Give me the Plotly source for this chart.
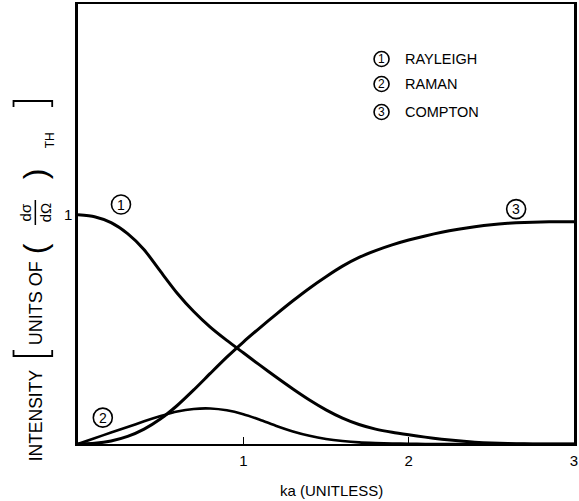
import plotly.graph_objects as go

# ka values (unitless) and the three scattering intensities in Thomson units
ka = [0.0, 0.1, 0.2, 0.3, 0.4, 0.5, 0.6, 0.7, 0.8, 0.9, 1.0,
      1.1, 1.2, 1.3, 1.4, 1.5, 1.6, 1.7, 1.8, 1.9, 2.0,
      2.1, 2.2, 2.3, 2.4, 2.5, 2.6, 2.7, 2.8, 2.9, 3.0]

rayleigh = [1.000, 0.992, 0.966, 0.918, 0.848, 0.752, 0.658, 0.578, 0.510, 0.452, 0.398,
            0.344, 0.291, 0.240, 0.192, 0.149, 0.113, 0.085, 0.065, 0.051, 0.040,
            0.030, 0.021, 0.014, 0.008, 0.004, 0.002, 0.001, 0.0, 0.0, 0.0]

raman = [0.0, 0.025, 0.050, 0.074, 0.099, 0.122, 0.142, 0.153, 0.155, 0.147, 0.130,
         0.106, 0.079, 0.055, 0.036, 0.022, 0.013, 0.007, 0.004, 0.002, 0.001,
         0.0, 0.0, 0.0, 0.0, 0.0, 0.0, 0.0, 0.0, 0.0, 0.0]

compton = [0.0, 0.003, 0.013, 0.033, 0.065, 0.110, 0.168, 0.236, 0.308, 0.379, 0.445,
           0.507, 0.567, 0.625, 0.680, 0.730, 0.776, 0.814, 0.844, 0.869, 0.890,
           0.908, 0.924, 0.937, 0.948, 0.957, 0.963, 0.967, 0.969, 0.970, 0.970]

x_ticks = [1, 2, 3]
y_ticks = [1]

series_names = ["RAYLEIGH", "RAMAN", "COMPTON"]
numbers = ["1", "2", "3"]

W, H = 579, 501
L, R, T, B = 78, 1, 4, 57
PW, PH = W - L - R, H - T - B

FONT = "Liberation Sans, Arial, sans-serif"


def px(x):
    return (x - L) / PW


def py(y):
    return (H - B - y) / PH


fig = go.Figure()
for vals, w in [(rayleigh, 3), (raman, 2.6), (compton, 3)]:
    fig.add_trace(go.Scatter(x=ka, y=vals, mode="lines",
                             line=dict(color="black", width=w, shape="spline", smoothing=0.6),
                             showlegend=False, hoverinfo="skip"))

ann = []
shapes = []


def circled(num, xx, yy, ref, radius, fsize):
    xr, yr = ("x", "y") if ref == "data" else ("paper", "paper")
    shapes.append(dict(type="circle", xref=xr, yref=yr,
                       xsizemode="pixel", ysizemode="pixel",
                       xanchor=xx, yanchor=yy,
                       x0=-radius, x1=radius, y0=-radius, y1=radius,
                       line=dict(color="black", width=1.6)))
    ann.append(dict(x=xx, y=yy, xref=xr, yref=yr, text=num, showarrow=False,
                    font=dict(family=FONT, size=fsize, color="black"),
                    xanchor="center", yanchor="middle"))


# circled numbers beside each curve
for num, (xx, yy) in zip(numbers, [(0.26, 1.045), (0.15, 0.115), (2.65, 1.025)]):
    circled(num, xx, yy, "data", 9.5, 14)

# key in the upper right
for i, (num, name) in enumerate(zip(numbers, series_names)):
    yy = [59, 84, 112][i]
    circled(num, px(384), py(yy), "paper", 7.5, 12)
    ann.append(dict(x=px(406), y=py(yy), xref="paper", yref="paper", text=name, showarrow=False,
                    font=dict(family=FONT, size=14.5, color="black"),
                    xanchor="left", yanchor="middle"))

# x-axis title
ann.append(dict(x=px(334), y=py(490), xref="paper", yref="paper", text="ka (UNITLESS)",
                showarrow=False, font=dict(family=FONT, size=15, color="black"),
                xanchor="center", yanchor="middle"))

# y-axis title, assembled piece by piece (rotated)
ytitle = [
    ("INTENSITY", 36, 415, 17.5),
    ("UNITS OF", 36, 303, 18),
    ("(", 35, 249, 32),
    ("d\u03c3", 25, 212, 15),
    ("d\u03a9", 45, 212, 15),
    (")", 35, 174, 32),
    ("TH", 50, 140, 12),
]
for txt, xx, yy, fs in ytitle:
    ann.append(dict(x=px(xx), y=py(yy), xref="paper", yref="paper", text=txt,
                    showarrow=False, textangle=-90,
                    font=dict(family=FONT, size=fs, color="black"),
                    xanchor="center", yanchor="middle"))

# fraction bar and the large square brackets of the y-axis title
shapes.append(dict(type="line", xref="paper", yref="paper",
                   x0=px(35), x1=px(35), y0=py(200), y1=py(225),
                   line=dict(color="black", width=1.5)))


def bracket(yy, direction):
    x0, x1 = px(13), px(52)
    ya, yb = py(yy), py(yy + direction * 6)
    path = f"M {x0},{yb} L {x0},{ya} L {x1},{ya} L {x1},{yb}"
    shapes.append(dict(type="path", xref="paper", yref="paper", path=path,
                       line=dict(color="black", width=1.8)))


bracket(356, -1)
bracket(101, 1)

fig.update_layout(
    width=W, height=H,
    margin=dict(l=L, r=R, t=T, b=B),
    paper_bgcolor="white", plot_bgcolor="white",
    annotations=ann, shapes=shapes,
    xaxis=dict(range=[0, 3], tickvals=x_ticks, ticktext=[str(v) for v in x_ticks],
               ticks="inside", ticklen=7, tickwidth=1.2, tickcolor="black",
               showline=True, linecolor="black", linewidth=2, mirror=True,
               showgrid=False, zeroline=False, ticklabelstandoff=2,
               ticklabeloverflow="allow",
               tickfont=dict(family=FONT, size=15, color="black")),
    yaxis=dict(range=[0, 1.92], tickvals=y_ticks, ticktext=[str(v) for v in y_ticks],
               ticks="", showline=True, linecolor="black", linewidth=2.5, mirror=True,
               showgrid=False, zeroline=False,
               tickfont=dict(family=FONT, size=15, color="black")),
)

fig.write_html("out.html")
